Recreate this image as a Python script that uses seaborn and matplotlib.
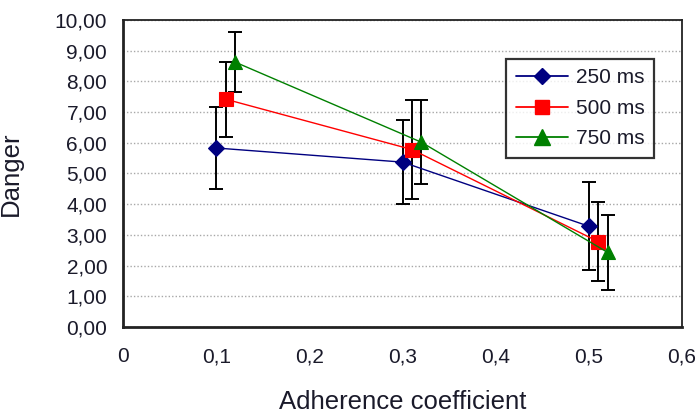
import matplotlib
matplotlib.use("Agg")
import matplotlib.pyplot as plt
import seaborn as sns
import pandas as pd
from matplotlib.lines import Line2D

# ---- data ----
series_names = ["250 ms", "500 ms", "750 ms"]
x250 = [0.10, 0.30, 0.50]
y250 = [5.83, 5.37, 3.28]
e250 = [1.35, 1.36, 1.44]
x500 = [0.11, 0.31, 0.51]
y500 = [7.42, 5.78, 2.78]
e500 = [1.22, 1.60, 1.28]
x750 = [0.12, 0.32, 0.52]
y750 = [8.63, 6.02, 2.43]
e750 = [0.98, 1.37, 1.22]
y_ticks = [0, 1, 2, 3, 4, 5, 6, 7, 8, 9, 10]
y_tick_labels = ["0,00", "1,00", "2,00", "3,00", "4,00", "5,00",
                 "6,00", "7,00", "8,00", "9,00", "10,00"]
x_ticks = [0, 0.1, 0.2, 0.3, 0.4, 0.5, 0.6]
x_tick_labels = ["0", "0,1", "0,2", "0,3", "0,4", "0,5", "0,6"]

colors = ["#000080", "#ff0000", "#008000"]
markers = ["D", "s", "^"]
msizes = [8.3, 10, 10.5]

sns.set_theme(style="white")
plt.rcParams["font.family"] = ["Liberation Sans", "DejaVu Sans"]

df = pd.DataFrame({
    "x": x250 + x500 + x750,
    "y": y250 + y500 + y750,
    "series": [series_names[0]] * 3 + [series_names[1]] * 3 + [series_names[2]] * 3,
})

fig = plt.figure(figsize=(6.96, 4.19), dpi=100)
ax = fig.add_axes([0.177, 0.2196, 0.803, 0.7327])

sns.lineplot(data=df, x="x", y="y", hue="series", style="series",
             markers=markers, dashes=False, palette=colors,
             estimator=None, sort=False, linewidth=1.0, ax=ax, legend=False,
             zorder=3)
series_lines = list(ax.lines)
for line, c, ms in zip(series_lines, colors, msizes):
    line.set_markeredgecolor(c)
    line.set_markerfacecolor(c)
    line.set_markersize(ms)
    line.set_markeredgewidth(0.8)

# error bars
for xs, ys, es in [(x250, y250, e250), (x500, y500, e500), (x750, y750, e750)]:
    ax.errorbar(xs, ys, yerr=es, fmt="none", ecolor="black", elinewidth=1.4,
                capsize=4.7, capthick=1.4, zorder=1.5)

ax.set_xlim(0, 0.6)
ax.set_ylim(0, 10)
ax.set_xticks(x_ticks)
ax.set_xticklabels(x_tick_labels)
ax.set_yticks(y_ticks)
ax.set_yticklabels(y_tick_labels)

ax.yaxis.grid(True, color="#a8a8a8", linestyle=(0, (1, 1.5)), linewidth=1.0)
ax.xaxis.grid(False)
ax.set_axisbelow(True)

for side in ["top", "right"]:
    ax.spines[side].set_color("#222222")
    ax.spines[side].set_linewidth(1.3)
for side in ["left", "bottom"]:
    ax.spines[side].set_color("#222222")
    ax.spines[side].set_linewidth(2.0)

ax.tick_params(axis="both", which="major", direction="out", length=4.5,
               width=1.5, color="#222222", labelsize=15, labelcolor="#1a1a2a")
ax.tick_params(axis="y", pad=7)
ax.tick_params(axis="x", pad=10)

ax.set_xlabel("Adherence coefficient", fontsize=18.5, color="#1a1a2a")
ax.set_ylabel("Danger", fontsize=18.5, color="#1a1a2a")
ax.yaxis.set_label_coords(-0.18, 0.5)
ax.xaxis.set_label_coords(0.5, -0.205)

handles = [Line2D([0], [0], color=c, marker=m, markersize=ms, linewidth=1.3,
                  markeredgecolor=c, markerfacecolor=c)
           for c, m, ms in zip(colors, markers, [8.5, 10, 11])]
leg = ax.legend(handles, series_names, loc="upper right",
                bbox_to_anchor=(0.95, 0.873), fontsize=15, frameon=True,
                fancybox=False, edgecolor="black", handlelength=2.5,
                labelspacing=0.55, borderpad=0.45, handletextpad=0.4,
                borderaxespad=0)
leg.get_frame().set_linewidth(1.6)
for t in leg.get_texts():
    t.set_color("#1a1a2a")

fig.savefig("out.png", dpi=100, facecolor="white")
